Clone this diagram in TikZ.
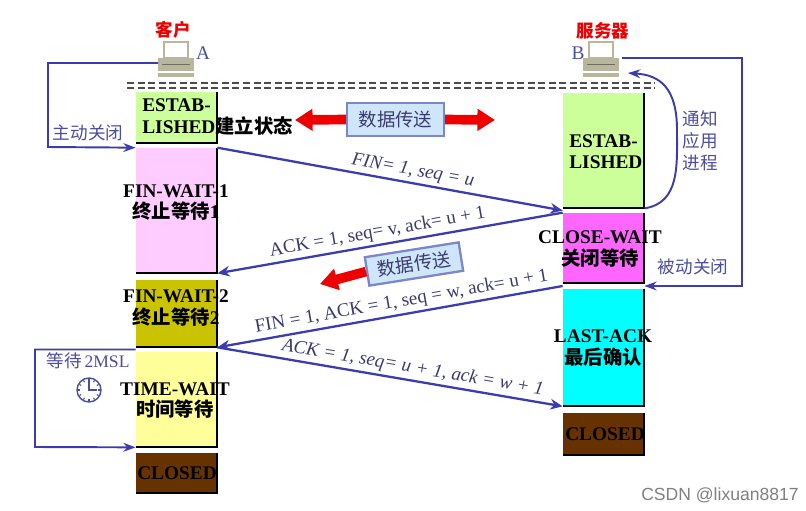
\documentclass[tikz,border=0pt]{standalone}
\usepackage{fontspec}
\setmainfont{Liberation Serif}
\setsansfont{Liberation Sans}
\newfontfamily\cjk{Noto Sans CJK SC}
\usetikzlibrary{calc}
\usetikzlibrary{arrows.meta}

\definecolor{estab}{HTML}{CCFF99}
\definecolor{finone}{HTML}{FFCCFF}
\definecolor{fintwo}{HTML}{C9C300}
\definecolor{timew}{HTML}{FFFF99}
\definecolor{closed}{HTML}{663300}
\definecolor{closew}{HTML}{FF66FF}
\definecolor{lastack}{HTML}{00FFFF}
\definecolor{seg}{HTML}{3C3CB0}
\definecolor{msgtext}{HTML}{3A3A70}
\definecolor{note}{HTML}{4C4CA0}
\definecolor{boxblue}{HTML}{CFE6FA}
\definecolor{boxline}{HTML}{7C86C8}
\definecolor{pc}{HTML}{B9B69E}
\definecolor{bigred}{HTML}{EE0000}

\tikzset{
  stbox/.style={inner sep=0, minimum width=1.62cm},
  stxt/.style={font=\fontsize{11}{12}\selectfont\bfseries, align=center, text=black, inner sep=0},
  msg/.style={draw=seg, line width=1.3pt, -{Stealth[length=7pt,width=6pt]}},
  msgl/.style={font=\fontsize{10.8}{12}\selectfont, text=msgtext, sloped, above, inner sep=1.5pt},
  loopline/.style={draw=seg, line width=1.1pt, -{Stealth[length=7pt,width=5pt]}},
  notetxt/.style={font=\fontsize{10}{12.5}\selectfont\cjk, text=note, align=center},
  databox/.style={draw=boxline, line width=1.3pt, fill=boxblue, minimum width=1.94cm,
    minimum height=0.66cm, font=\fontsize{10.5}{12}\selectfont\cjk, text=msgtext},
  redarrow/.style={draw=bigred, line width=5.5pt, -{Triangle[length=10pt,width=12pt]}}
}

\begin{document}
\begin{tikzpicture}[x=0.02cm,y=-0.02cm,>=Stealth]
      \useasboundingbox[fill=white] (0,0) rectangle (806,511);

      % the two hosts
      \foreach \x in {158,583} {
        \draw[pc, line width=1.5pt, fill=white] (\x+6,42) rectangle (\x+30,58);
        \fill[pc] (\x,58) rectangle (\x+36,71);
        \draw[pc!60!black, line width=0.4pt] (\x+4,64) -- (\x+32,64);
        \fill[pc] (\x,73) rectangle (\x+36,77);
      }
      \coordinate (pcA) at (158,63);
      \coordinate (pcB) at (622,58);
      \coordinate (pcBin) at (628,73);

      \node[font=\fontsize{10}{12}\selectfont\cjk\bfseries, text=bigred] (hostA) at (173,30) {客户};
      \node[font=\fontsize{10}{12}\selectfont\cjk\bfseries, text=bigred] (hostB) at (603,31) {服务器};
      \node[font=\fontsize{11}{12}\selectfont, text=note] (letA) at (203,53) {A};
      \node[font=\fontsize{11}{12}\selectfont, text=note] (letB) at (578,53) {B};

      \draw[gray!60!black, dash pattern=on 4pt off 2pt, line width=0.6pt] (127,83) -- (655,83);
      \draw[gray!60!black, dash pattern=on 4pt off 2pt, line width=0.6pt] (127,88) -- (655,88);

      % client states
      \node[stbox, fill=estab, minimum height=1.02cm] (cEst) at (176.5,117.5) {};
      \node[stbox, fill=finone, minimum height=2.5cm] (cFw1) at (176.5,210.5) {};
      \node[stbox, fill=fintwo, minimum height=1.34cm] (cFw2) at (176.5,313.5) {};
      \node[stbox, fill=timew, minimum height=1.9cm] (cTw) at (176.5,399.5) {};
      \node[stbox, fill=closed, minimum height=0.8cm] (cCl) at (176.5,473) {};

      % server states
      \node[stbox, fill=estab, minimum height=2.3cm] (sEst) at (603.5,150.5) {};
      \node[stbox, fill=closew, minimum height=1.4cm] (sCw) at (603.5,248) {};
      \node[stbox, fill=lastack, minimum height=2.34cm] (sLa) at (603.5,347.5) {};
      \node[stbox, fill=closed, minimum height=0.84cm] (sCl) at (603.5,434) {};

      \foreach \b in {cEst,cFw1,cFw2,cTw,cCl,sEst,sCw,sLa,sCl}
        \draw[line width=1.3pt] (\b.north east) -- (\b.south east) -- (\b.south west);

      \node[stxt, align=left, anchor=west] (tEstA) at (142,117) {ESTAB-\\LISHED{\cjk 建立状态}};
      \node[stxt] (tFw1) at (176,203) {FIN-WAIT-1\\{\cjk 终止等待}1};
      \node[stxt] (tFw2) at (176,308) {FIN-WAIT-2\\{\cjk 终止等待}2};
      \node[stxt] (tTw) at (175,401) {TIME-WAIT\\{\cjk 时间等待}};
      \node[stxt] (tClA) at (177,473) {CLOSED};
      \node[stxt, align=left, anchor=west] (tEstB) at (569,152) {ESTAB-\\LISHED};
      \node[stxt] (tCw) at (600,249) {CLOSE-WAIT\\{\cjk 关闭等待}};
      \node[stxt] (tLa) at (603,348) {LAST-ACK\\{\cjk 最后确认}};
      \node[stxt] (tClB) at (605,434) {CLOSED};

      % data transfer
      \coordinate (redL) at (295,120);
      \coordinate (redR) at (495,120);
      \coordinate (redM) at (320,284);
      \node[databox] (dataTop) at (395.5,119.5) {数据传送};
      \draw[redarrow] (dataTop.west) -- (redL);
      \draw[redarrow] (dataTop.east) -- (redR);
      \node[databox, rotate=9, minimum width=1.9cm, minimum height=0.56cm] (dataMid) at (414,264) {数据传送};
      \draw[redarrow] (dataMid.west) -- (redM);

      % segments
      \draw[msg] (cFw1.north east) -- ($(sEst.south west)!0.5!(sCw.north west)$)
        node[msgl, pos=0.56] (mFin) {\itshape FIN= 1, seq = u};
      \draw[msg] (sCw.north west) -- (cFw1.south east)
        node[msgl, pos=0.53] (mAck) {ACK = 1, seq= v, ack= u + 1};
      \draw[msg] ($(sCw.south west)!0.5!(sLa.north west)$) -- (cFw2.south east)
        node[msgl, pos=0.46] (mFinAck) {FIN = 1, ACK = 1, seq = w, ack= u + 1};
      \draw[msg] (cFw2.south east) -- (sLa.south west)
        node[msgl, pos=0.56] (mLast) {\itshape ACK = 1, seq= u + 1, ack = w + 1};

      % closing loops
      \draw[loopline] (pcA) -| (48,147) -- (cFw1.north west);
      \node[notetxt] (nActive) at (88,133) {主动关闭};

      \draw[loopline] ($(cFw2.south west)!0.5!(cTw.north west)$) -| (35,447) -- (cTw.south west);
      \node[notetxt] (nWait) at (88,361) {等待\,{\rmfamily 2MSL}};
      \coordinate (clock) at (89,390);
      \draw[note, line width=0.8pt, fill=white] (clock) circle (12);
      \foreach \a in {0,30,...,330}
        \draw[note, line width=0.6pt] ($(clock)+(\a:9)$) -- ($(clock)+(\a:11)$);
      \draw[note, line width=0.9pt] (89,380) -- (clock) -- (97,390);

      \draw[loopline] (pcB) -| (742,286) -- ($(sCw.south east)!0.5!(sLa.north east)$);
      \node[notetxt] (nPassive) at (693,267) {被动关闭};

      \draw[loopline] (sEst.south east) .. controls (680,203) and (677,165) .. (677,130)
        .. controls (677,88) and (660,75) .. (pcBin);
      \node[notetxt] (nNotify) at (700,141) {通知\\应用\\进程};

      \node[font=\sffamily\fontsize{10}{12}\selectfont, text=gray] (mark) at (720,495) {CSDN @lixuan8817};
    \end{tikzpicture}
\end{document}
